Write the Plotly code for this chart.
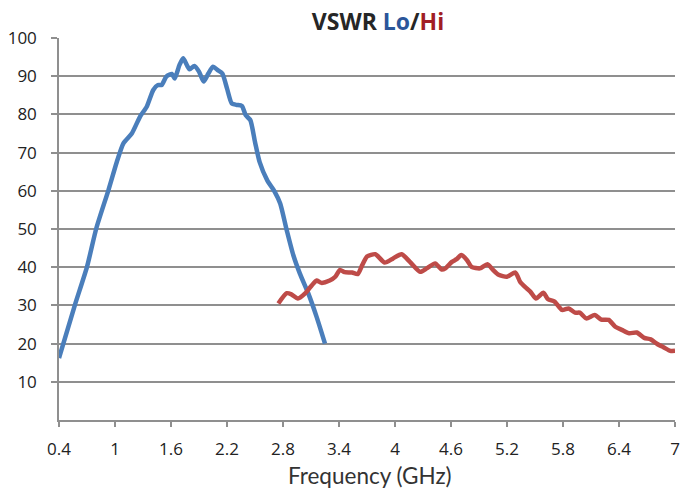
import plotly.graph_objects as go

# Lo band
lo_freq = [0.40, 0.57, 0.70, 0.80, 0.93, 1.02, 1.09, 1.18, 1.27, 1.34, 1.41, 1.46, 1.50,
           1.55, 1.61, 1.64, 1.69, 1.73, 1.77, 1.80, 1.85, 1.90, 1.95, 2.00, 2.05, 2.10,
           2.15, 2.20, 2.25, 2.30, 2.36, 2.40, 2.45, 2.50, 2.55, 2.63, 2.71, 2.77, 2.84,
           2.91, 2.98, 3.07, 3.16, 3.25]
lo_vswr = [16.2, 30.1, 40.1, 50.2, 60.2, 67.6, 72.4, 75.0, 79.5, 82.0, 86.4, 87.7, 87.7,
           89.9, 90.6, 89.4, 92.9, 94.7, 92.9, 91.8, 92.7, 91.2, 88.6, 90.7, 92.5, 91.6,
           90.7, 86.8, 82.9, 82.5, 82.2, 79.8, 78.5, 72.8, 67.5, 62.8, 59.8, 56.7, 49.7,
           43.2, 38.4, 33.2, 27.0, 20.0]

# Hi band
hi_freq = [2.75, 2.84, 2.89, 2.96, 3.04, 3.11, 3.16, 3.21, 3.30, 3.36, 3.41, 3.46, 3.54,
           3.60, 3.65, 3.70, 3.79, 3.89, 3.98, 4.07, 4.16, 4.27, 4.34, 4.43, 4.50, 4.54,
           4.61, 4.66, 4.71, 4.77, 4.82, 4.91, 4.99, 5.05, 5.11, 5.20, 5.29, 5.34, 5.39,
           5.45, 5.51, 5.59, 5.64, 5.71, 5.79, 5.86, 5.93, 5.98, 6.05, 6.14, 6.21, 6.29,
           6.36, 6.43, 6.51, 6.59, 6.67, 6.74, 6.81, 6.88, 6.95, 7.00]
hi_vswr = [30.5, 33.2, 32.9, 31.8, 33.2, 35.3, 36.5, 35.9, 36.5, 37.5, 39.3, 38.7, 38.6,
           38.2, 40.6, 42.8, 43.4, 41.2, 42.3, 43.4, 41.4, 38.8, 39.7, 41.0, 39.4, 39.7,
           41.4, 42.1, 43.2, 41.9, 40.1, 39.7, 40.8, 39.3, 38.0, 37.5, 38.6, 36.2, 34.9,
           33.6, 31.8, 33.3, 31.6, 31.0, 28.8, 29.2, 28.1, 28.1, 26.6, 27.5, 26.3, 26.2,
           24.4, 23.6, 22.7, 22.9, 21.5, 21.1, 19.9, 19.0, 18.1, 18.1]

x_ticks = [0.4, 1, 1.6, 2.2, 2.8, 3.4, 4, 4.6, 5.2, 5.8, 6.4, 7]
x_tick_labels = ["0.4", "1", "1.6", "2.2", "2.8", "3.4", "4", "4.6", "5.2", "5.8", "6.4", "7"]
y_ticks = [10, 20, 30, 40, 50, 60, 70, 80, 90, 100]

BLUE = "#4a7ebb"
RED = "#be4b48"
GRID = "#8f8f8f"

fig = go.Figure()
fig.add_trace(go.Scatter(x=lo_freq, y=lo_vswr, mode="lines", name="Lo",
                         line=dict(color=BLUE, width=4.5, shape="spline", smoothing=0.6)))
fig.add_trace(go.Scatter(x=hi_freq, y=hi_vswr, mode="lines", name="Hi",
                         line=dict(color=RED, width=4.5, shape="spline", smoothing=0.6)))

fig.update_layout(
    width=680, height=489,
    margin=dict(l=59, r=5, t=38, b=69, autoexpand=False),
    paper_bgcolor="white", plot_bgcolor="white",
    showlegend=False,
    font=dict(family="Open Sans, DejaVu Sans, sans-serif", color="#222222"),
    title=dict(
        text="<b>VSWR <span style='color:#2b569a'>Lo</span>/<span style='color:#a11d25'>Hi</span></b>",
        x=378 / 680, xanchor="center", xref="container",
        y=1 - 22 / 489, yanchor="middle", yref="container",
        font=dict(family="Open Sans, sans-serif", size=23, color="#262626"),
    ),
    xaxis=dict(
        range=[0.4, 7], tickvals=x_ticks, ticktext=x_tick_labels,
        showgrid=False, zeroline=False, automargin=False,
        showline=True, linecolor=GRID, linewidth=1.5,
        ticks="outside", ticklen=5, tickwidth=1.5, tickcolor=GRID,
        ticklabelstandoff=8,
        tickfont=dict(size=17, color="#222222"),
    ),
    yaxis=dict(
        range=[0, 100], tickvals=y_ticks,
        showgrid=True, gridcolor=GRID, gridwidth=1.5, zeroline=False, automargin=False,
        showline=True, linecolor=GRID, linewidth=1.5,
        ticks="outside", ticklen=6, tickwidth=1.5, tickcolor=GRID,
        ticklabelstandoff=11,
        tickfont=dict(size=17, color="#222222"),
    ),
    annotations=[dict(
        text="Frequency (GHz)", showarrow=False,
        xref="paper", yref="paper",
        x=(370 - 59) / 616, y=-(475 - 420) / 382, xanchor="center", yanchor="middle",
        font=dict(family="Lato, Open Sans, sans-serif", size=22.5, color="#333333"),
    )],
)

fig.write_html("out.html", config={"displayModeBar": False},
               post_script="document.body.style.margin='0';")
